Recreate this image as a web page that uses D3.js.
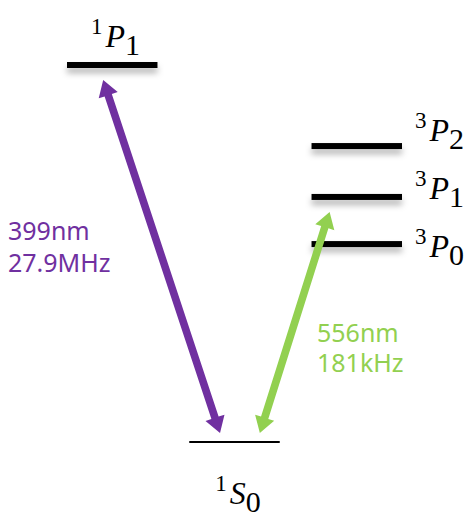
<!DOCTYPE html>
<html>
<head>
<meta charset="utf-8">
<script src="https://cdn.jsdelivr.net/npm/d3@7"></script>
<style>
  body { margin: 0; background: #fff; }
  svg { display: block; }
</style>
</head>
<body>
<svg id="chart"></svg>
<script>
var width = 471,
    height = 515;

// energy levels (diagram units, ground = 0, 1P1 = 100)
var levelIds    = ["1S0", "1P1", "3P0", "3P1", "3P2"];
var levelMult   = ["1", "1", "3", "3", "3"];
var levelL      = ["S", "P", "P", "P", "P"];
var levelJ      = ["0", "1", "0", "1", "2"];
var levelEnergy = [0, 100, 52.5, 65, 78.5];
var levelColumn = ["ground", "singlet", "triplet", "triplet", "triplet"];

var columns = ["singlet", "ground", "triplet"];

// transitions
var transLower    = ["1S0", "1S0"];
var transUpper    = ["1P1", "3P1"];
var transLowerAt  = [0.34, 0.78];   // fraction along the lower level
var transUpperAt  = [0.40, 0.20];   // fraction along the upper level
var transWave     = ["399nm", "556nm"];
var transWidth    = ["27.9MHz", "181kHz"];
var transColor    = ["#7030A0", "#92D050"];

var svg = d3.select("#chart")
    .attr("width", width)
    .attr("height", height);

var defs = svg.append("defs");
defs.append("filter")
    .attr("id", "shadow")
    .attr("x", "-10%").attr("y", "-100%")
    .attr("width", "120%").attr("height", "500%")
  .append("feDropShadow")
    .attr("dx", 0).attr("dy", 5)
    .attr("stdDeviation", 3)
    .attr("flood-color", "#000")
    .attr("flood-opacity", 0.3);

var x = d3.scaleBand().domain(columns).range([67, 402]).paddingInner(0.26);
var y = d3.scaleLinear().domain([0, 100]).range([442, 65]);

var levels = levelIds.map(function(id, i) {
  return {id: id, mult: levelMult[i], L: levelL[i], J: levelJ[i],
          e: levelEnergy[i], col: levelColumn[i]};
});
var byId = {};
levels.forEach(function(d) { byId[d.id] = d; });

// level lines (drawn as thin rects so the shadow filter has a box)
function thick(d) { return d.col == "ground" ? 2 : 6; }
svg.append("g").selectAll("rect")
    .data(levels)
    .enter().append("rect")
    .attr("x", function(d) { return x(d.col); })
    .attr("width", x.bandwidth())
    .attr("y", function(d) { return y(d.e) - thick(d) / 2; })
    .attr("height", thick)
    .attr("fill", "#000")
    .attr("filter", function(d) { return d.col == "ground" ? null : "url(#shadow)"; });

// level labels
var p0 = y(byId["3P0"].e);
function labelPos(d) {
  if (d.col == "singlet") return [x(d.col) + 24, y(d.e) - 18];
  if (d.col == "ground")  return [x(d.col) + 26, y(d.e) + 62];
  return [x(d.col) + x.bandwidth() + 13, p0 + 13 - (+d.J) * 58];
}

var lab = svg.append("g").selectAll("text")
    .data(levels)
    .enter().append("text")
    .attr("font-family", "'Liberation Serif', serif")
    .attr("fill", "#000")
    .attr("x", function(d) { return labelPos(d)[0]; })
    .attr("y", function(d) { return labelPos(d)[1]; });

lab.append("tspan")
    .attr("font-size", 23)
    .attr("dy", -13)
    .text(function(d) { return d.mult; });
lab.append("tspan")
    .attr("font-size", 32)
    .attr("font-style", "italic")
    .attr("dx", 3)
    .attr("dy", 13)
    .text(function(d) { return d.L; });
lab.append("tspan")
    .attr("font-size", 30)
    .attr("dy", 8)
    .text(function(d) { return d.J; });

// double-headed arrows
var hw = 3.8, hh = 10, hl = 16, gapTop = 15, gapBottom = 9;
function arrow(a, b) {
  var dx = b[0] - a[0], dy = b[1] - a[1], len = Math.sqrt(dx * dx + dy * dy);
  var ux = dx / len, uy = dy / len, nx = -uy, ny = ux;
  function pt(p, along, side) { return [p[0] + ux * along + nx * side, p[1] + uy * along + ny * side]; }
  var pts = [a, pt(a, hl, hh), pt(a, hl, hw), pt(b, -hl, hw), pt(b, -hl, hh), b,
             pt(b, -hl, -hh), pt(b, -hl, -hw), pt(a, hl, -hw), pt(a, hl, -hh)];
  return d3.line()(pts) + "Z";
}

var trans = transUpper.map(function(u, i) {
  var up = byId[u], lo = byId[transLower[i]];
  var a = [x(up.col) + transUpperAt[i] * x.bandwidth(), y(up.e) + gapTop];
  var b = [x(lo.col) + transLowerAt[i] * x.bandwidth(), y(lo.e) - gapBottom];
  return {a: a, b: b, color: transColor[i], wave: transWave[i], w: transWidth[i]};
});

svg.append("g").selectAll("path")
    .data(trans)
    .enter().append("path")
    .attr("d", function(d) { return arrow(d.a, d.b); })
    .attr("fill", function(d) { return d.color; });

// transition labels
var tx = [8, 317], ty = [240, 342], lineGap = [32, 30];
var tl = svg.append("g").selectAll("text")
    .data(trans)
    .enter().append("text")
    .attr("font-family", "'Noto Sans', sans-serif")
    .attr("font-size", 25)
    .attr("fill", function(d) { return d.color; });
tl.append("tspan")
    .attr("x", function(d, i) { return tx[i]; })
    .attr("y", function(d, i) { return ty[i]; })
    .text(function(d) { return d.wave; });
tl.append("tspan")
    .attr("x", function(d, i) { return tx[i]; })
    .attr("y", function(d, i) { return ty[i] + lineGap[i]; })
    .text(function(d) { return d.w; });
</script>
</body>
</html>
